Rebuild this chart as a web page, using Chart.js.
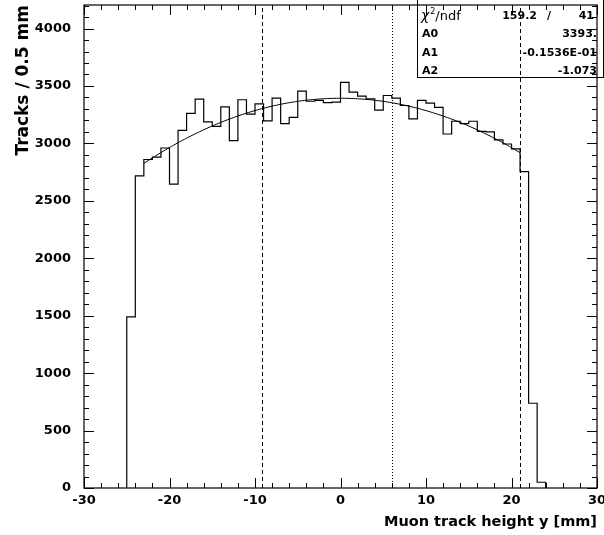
<!DOCTYPE html>
<html>
<head>
<meta charset="utf-8">
<script src="https://cdn.jsdelivr.net/npm/chart.js@4.4.1/dist/chart.umd.min.js"></script>
<style>
  html, body { margin: 0; padding: 0; background: #fff; }
  canvas { display: block; }
</style>
</head>
<body>
<canvas id="histChart" width="604" height="535"></canvas>
<script>
// bin lower edges (mm) and counts per bin
const binEdges = [-25, -24, -23, -22, -21, -20, -19, -18, -17, -16, -15, -14, -13, -12, -11, -10,
                  -9, -8, -7, -6, -5, -4, -3, -2, -1, 0, 1, 2, 3, 4, 5, 6, 7, 8, 9, 10,
                  11, 12, 13, 14, 15, 16, 17, 18, 19, 20, 21, 22, 23, 24];
const counts = [1490, 2718, 2860, 2880, 2960, 2645, 3113, 3262, 3386, 3187, 3148, 3318, 3024, 3380, 3255, 3345,
                3197, 3394, 3173, 3226, 3455, 3367, 3375, 3355, 3360, 3532, 3447, 3412, 3388, 3290, 3417, 3394,
                3330, 3214, 3374, 3351, 3314, 3082, 3193, 3173, 3193, 3105, 3100, 3030, 2995, 2953, 2755, 738, 50];

// pol2 fit from the stats box
const fitParams = [3393, -0.1536E-01, -1.073];
const fitRange = [-23, 21];
const statRows = [
  ['A0', '3393.'],
  ['A1', '-0.1536E-01'],
  ['A2', '-1.073']
];
const chi2 = '159.2';
const ndf = '41';

// vertical marker lines
const dashedCuts = [-9.2, 21];
const dottedCuts = [6];

const xTicks = [-30, -20, -10, 0, 10, 20, 30];
const yTicks = [0, 500, 1000, 1500, 2000, 2500, 3000, 3500, 4000];

const FONT = '"DejaVu Sans", sans-serif';

// step outline: start and end on zero
const histPoints = [{ x: binEdges[0], y: 0 }];
counts.forEach((c, i) => histPoints.push({ x: binEdges[i], y: c }));
histPoints.push({ x: binEdges[binEdges.length - 1], y: 0 });

const fitPoints = [];
for (let x = fitRange[0]; x <= fitRange[1] + 1e-9; x += 0.25) {
  fitPoints.push({ x: x, y: fitParams[0] + fitParams[1] * x + fitParams[2] * x * x });
}

const rootFrame = {
  id: 'rootFrame',
  afterDatasetsDraw(chart) {
    const ctx = chart.ctx;
    const a = chart.chartArea;
    const xs = chart.scales.x;
    const ys = chart.scales.y;
    ctx.save();

    // stats box
    const bx = 417.5, by = -0.5, bw = 186, bh = 78;
    ctx.fillStyle = '#fff';
    ctx.fillRect(bx, by, bw, bh);
    ctx.strokeStyle = '#000';
    ctx.lineWidth = 1;
    ctx.strokeRect(bx, by, bw, bh);

    ctx.fillStyle = '#000';
    ctx.textBaseline = 'alphabetic';
    ctx.textAlign = 'left';
    ctx.font = 'italic 14px ' + FONT;
    ctx.fillText('\u03c7', 421, 20);
    let w = ctx.measureText('\u03c7').width;
    ctx.font = '8px ' + FONT;
    ctx.fillText('2', 421 + w + 1, 14);
    ctx.font = '13px ' + FONT;
    ctx.fillText('/ndf', 421 + w + 6, 20);

    ctx.font = 'bold 11px ' + FONT;
    ctx.textAlign = 'right';
    ctx.fillText(chi2, 537, 19);
    ctx.textAlign = 'center';
    ctx.fillText('/', 549, 19);
    ctx.textAlign = 'right';
    ctx.fillText(ndf, 594, 19);

    statRows.forEach((r, i) => {
      const yy = 37 + i * 18.5;
      ctx.textAlign = 'left';
      ctx.fillText(r[0], 422, yy);
      ctx.textAlign = 'right';
      ctx.fillText(r[1], 597, yy);
    });

    // marker lines
    ctx.lineWidth = 1;
    ctx.strokeStyle = '#000';
    ctx.setLineDash([4, 3]);
    dashedCuts.forEach(v => {
      const px = Math.round(xs.getPixelForValue(v)) + 0.5;
      ctx.beginPath();
      ctx.moveTo(px, a.bottom);
      ctx.lineTo(px, a.top);
      ctx.stroke();
    });
    ctx.setLineDash([1, 2]);
    dottedCuts.forEach(v => {
      const px = Math.round(xs.getPixelForValue(v)) + 0.5;
      ctx.beginPath();
      ctx.moveTo(px, a.bottom);
      ctx.lineTo(px, a.top);
      ctx.stroke();
    });
    ctx.setLineDash([]);

    // frame
    ctx.lineWidth = 1.2;
    ctx.strokeRect(a.left, a.top, a.right - a.left, a.bottom - a.top);

    // ticks, inward on all four sides
    ctx.lineWidth = 1;
    ctx.beginPath();
    for (let v = -30; v <= 30; v += 2) {
      const px = Math.round(xs.getPixelForValue(v)) + 0.5;
      const len = (v % 10 === 0) ? 10 : 5;
      ctx.moveTo(px, a.bottom); ctx.lineTo(px, a.bottom - len);
      ctx.moveTo(px, a.top); ctx.lineTo(px, a.top + len);
    }
    for (let v = 0; v <= ys.max; v += 100) {
      const py = Math.round(ys.getPixelForValue(v)) + 0.5;
      const len = (v % 500 === 0) ? 10 : 5;
      ctx.moveTo(a.left, py); ctx.lineTo(a.left + len, py);
      ctx.moveTo(a.right, py); ctx.lineTo(a.right - len, py);
    }
    ctx.stroke();

    // axis titles
    ctx.font = 'bold 14.5px ' + FONT;
    ctx.textAlign = 'right';
    ctx.textBaseline = 'alphabetic';
    ctx.fillText('Muon track height y [mm]', a.right, 526);

    ctx.translate(28, a.top);
    ctx.rotate(-Math.PI / 2);
    ctx.font = 'bold 17px ' + FONT;
    ctx.textAlign = 'right';
    ctx.fillText('Tracks / 0.5 mm', 0, 0);

    ctx.restore();
  }
};

new Chart(document.getElementById('histChart'), {
  type: 'scatter',
  data: {
    datasets: [
      {
        data: histPoints,
        showLine: true,
        stepped: 'before',
        borderColor: '#000',
        borderWidth: 1.2,
        pointRadius: 0,
        fill: false
      },
      {
        data: fitPoints,
        showLine: true,
        borderColor: '#000',
        borderWidth: 1,
        pointRadius: 0,
        tension: 0,
        fill: false
      }
    ]
  },
  options: {
    responsive: false,
    animation: false,
    devicePixelRatio: 1,
    layout: { padding: { left: 0, right: 7, top: 5, bottom: 0 } },
    plugins: {
      legend: { display: false },
      tooltip: { enabled: false }
    },
    scales: {
      x: {
        type: 'linear',
        min: -30,
        max: 30,
        afterBuildTicks: s => { s.ticks = xTicks.map(v => ({ value: v })); },
        afterFit: s => { s.height = 47; s.paddingLeft = 0; s.paddingRight = 0; },
        grid: { display: false, drawTicks: false },
        border: { display: false },
        ticks: {
          maxRotation: 0,
          autoSkip: false,
          padding: 5,
          color: '#000',
          callback: v => String(v),
          font: { family: FONT, size: 13, weight: 'bold' }
        }
      },
      y: {
        type: 'linear',
        min: 0,
        max: 4205,
        afterBuildTicks: s => { s.ticks = yTicks.map(v => ({ value: v })); },
        afterFit: s => { s.width = 84; s.paddingTop = 0; s.paddingBottom = 0; },
        grid: { display: false, drawTicks: false },
        border: { display: false },
        ticks: {
          autoSkip: false,
          padding: 13,
          color: '#000',
          callback: v => String(v),
          font: { family: FONT, size: 13, weight: 'bold' }
        }
      }
    }
  },
  plugins: [rootFrame]
});
</script>
</body>
</html>
